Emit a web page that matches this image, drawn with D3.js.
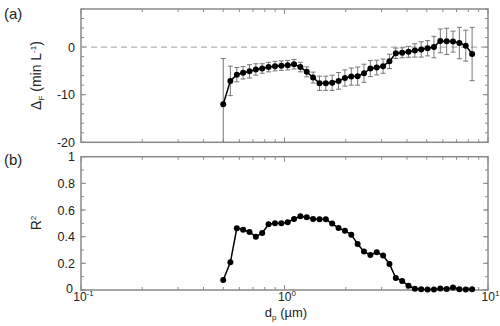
<!DOCTYPE html>
<html><head><meta charset="utf-8">
<script src="https://cdn.jsdelivr.net/npm/d3@7"></script>
<style>body{margin:0;background:#fff}svg{display:block;font-family:"Liberation Sans",Arial,sans-serif}</style>
</head><body><svg id="c" width="500" height="326"></svg>
<script>
const dp = [0.500,0.542,0.583,0.626,0.673,0.723,0.777,0.835,0.898,0.965,1.037,1.114,1.197,1.286,1.382,1.486,1.596,1.715,1.843,1.981,2.129,2.288,2.458,2.642,2.839,3.051,3.278,3.523,3.786,4.068,4.371,4.698,5.048,5.425,5.829,6.264,6.732,7.234,7.774,8.354];
const deltaF = [-12,-7.1,-5.8,-5.4,-5.1,-4.7,-4.5,-4.2,-4.0,-3.9,-3.8,-3.6,-4.2,-5.2,-6.4,-7.6,-7.6,-7.5,-7.1,-6.5,-6.2,-6.1,-5.5,-4.5,-4.3,-4.0,-3.0,-1.3,-1.2,-1.0,-0.7,-0.5,-0.25,0,1.3,1.2,1.15,0.85,0.3,-1.45];
const deltaErr = [9.6,3.1,1.5,1.3,1.4,1.2,1.0,1.0,1.0,1.0,1.0,1.0,1.0,1.05,1.15,1.5,1.5,1.6,1.75,1.7,1.8,1.9,1.9,1.7,1.55,1.5,1.5,1.1,1.05,1.15,1.4,1.6,1.6,2.25,2.5,2.75,2.2,3.3,3.25,5.6];
const r2 = [0.075,0.208,0.463,0.452,0.435,0.40,0.428,0.493,0.50,0.50,0.508,0.533,0.553,0.545,0.533,0.53,0.53,0.498,0.465,0.445,0.415,0.345,0.288,0.263,0.283,0.258,0.195,0.09,0.068,0.032,0.01,0.005,0.003,0.003,0.012,0.007,0.018,0.005,0.003,0.005];
const yTicksA = [0,-10,-20];
const yTicksB = [0,0.2,0.4,0.6,0.8,1];
const xTickExp = ["-1","0","1"];

const svg = d3.select("#c");
const L = 81, R = 488;
const x = d3.scaleLog().domain([0.1,10]).range([L,R]);
const yA = d3.scaleLinear().domain([-20,8]).range([142.3,9]);
const yB = d3.scaleLinear().domain([0,1]).range([290,156.7]);
const frameCol = "#8a8a8a";
const minorX = [];
for (let e=-1;e<1;e++) for (let k=2;k<=9;k++) minorX.push(k*Math.pow(10,e));
const majorX = [0.1,1,10];

function frame(y, minorY, majorY){
  const g = svg.append("g");
  const [y0,y1] = y.range();
  const tk = (x1,y1_,x2,y2) => g.append("line").attr("x1",x1).attr("y1",y1_).attr("x2",x2).attr("y2",y2).attr("stroke",frameCol).attr("stroke-width",1);
  minorX.forEach(v=>{const px=x(v); tk(px,y0,px,y0-3); tk(px,y1,px,y1+3);});
  majorX.forEach(v=>{const px=x(v); tk(px,y0,px,y0-5); tk(px,y1,px,y1+5);});
  minorY.forEach(v=>{const py=y(v); tk(L,py,L+3,py); tk(R,py,R-3,py);});
  majorY.forEach(v=>{const py=y(v); tk(L,py,L+5,py); tk(R,py,R-5,py);});
  g.append("rect").attr("x",L).attr("y",y1).attr("width",R-L).attr("height",y0-y1)
    .attr("fill","none").attr("stroke",frameCol).attr("stroke-width",1.5);
  return g;
}

// Panel A
frame(yA, d3.range(-20,9,2), yTicksA);
svg.append("line").attr("x1",L).attr("x2",R).attr("y1",yA(0)).attr("y2",yA(0))
  .attr("stroke","#b0b0b0").attr("stroke-width",1.2).attr("stroke-dasharray","6,4");
const ca = svg.append("g");
dp.forEach((d,i)=>{
  const px = x(d);
  const top = yA(Math.min(8,deltaF[i]+deltaErr[i]));
  const lo = deltaF[i]-deltaErr[i];
  const bot = yA(Math.max(-20,lo));
  ca.append("line").attr("x1",px).attr("x2",px).attr("y1",top).attr("y2",bot).attr("stroke","#777").attr("stroke-width",1);
  ca.append("line").attr("x1",px-2.5).attr("x2",px+2.5).attr("y1",top).attr("y2",top).attr("stroke","#777").attr("stroke-width",1);
  if (lo > -20) ca.append("line").attr("x1",px-2.5).attr("x2",px+2.5).attr("y1",bot).attr("y2",bot).attr("stroke","#777").attr("stroke-width",1);
});
svg.append("path").datum(dp.map((d,i)=>[d,deltaF[i]]))
  .attr("d",d3.line().x(d=>x(d[0])).y(d=>yA(d[1]))).attr("fill","none").attr("stroke","#000").attr("stroke-width",1.5);
svg.append("g").selectAll("circle").data(dp).join("circle")
  .attr("cx",d=>x(d)).attr("cy",(d,i)=>yA(deltaF[i])).attr("r",3).attr("fill","#000");

// Panel B
frame(yB, d3.range(0,1.01,0.1), yTicksB);
svg.append("path").datum(dp.map((d,i)=>[d,r2[i]]))
  .attr("d",d3.line().x(d=>x(d[0])).y(d=>yB(d[1]))).attr("fill","none").attr("stroke","#000").attr("stroke-width",1.5);
svg.append("g").selectAll("circle").data(dp).join("circle")
  .attr("cx",d=>x(d)).attr("cy",(d,i)=>yB(r2[i])).attr("r",3).attr("fill","#000");

// Tick labels
const fs = 12.5;
yTicksA.forEach(v=>svg.append("text").attr("x",L-6).attr("y",yA(v)+4.5).attr("text-anchor","end").attr("font-size",fs).attr("fill","#222").text(v));
yTicksB.forEach(v=>svg.append("text").attr("x",v===0?L-8:L-6).attr("y",yB(v)+(v===0?2.5:4.5)).attr("text-anchor","end").attr("font-size",fs).attr("fill","#222").text(v));
[0.1,1,10].forEach((v,i)=>{
  const t = svg.append("text").attr("x",x(v)+2.5).attr("y",300.5).attr("text-anchor","middle").attr("font-size",12).attr("fill","#222");
  t.append("tspan").text("10");
  t.append("tspan").attr("dy",-5).attr("font-size",8).text(xTickExp[i]);
});

// Axis titles
const ta = svg.append("text").attr("transform","translate(41,75.5) rotate(-90)").attr("text-anchor","middle").attr("font-size",14).attr("fill","#222");
ta.append("tspan").text("Δ");
ta.append("tspan").attr("font-size",8).attr("dy",3).text("F");
ta.append("tspan").attr("dy",-3).text(" (min L");
ta.append("tspan").attr("font-size",8).attr("dy",-5).text("-1");
ta.append("tspan").attr("dy",5).text(")");
const tb = svg.append("text").attr("transform","translate(41,223) rotate(-90)").attr("text-anchor","middle").attr("font-size",14).attr("fill","#222");
tb.append("tspan").text("R");
tb.append("tspan").attr("font-size",8).attr("dy",-5).text("2");
const tx = svg.append("text").attr("x",286).attr("y",316.5).attr("text-anchor","middle").attr("font-size",13).attr("fill","#222");
tx.append("tspan").text("d");
tx.append("tspan").attr("font-size",8).attr("dy",3).text("p");
tx.append("tspan").attr("dy",-3).text(" (µm)");

svg.append("text").attr("x",4).attr("y",19).attr("font-size",15).attr("fill","#222").text("(a)");
svg.append("text").attr("x",4).attr("y",165).attr("font-size",15).attr("fill","#222").text("(b)");
</script></body></html>
